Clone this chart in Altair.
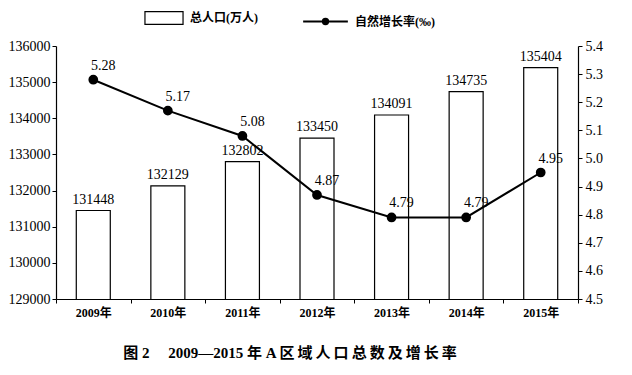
import altair as alt
import pandas as pd

years = ["2009年", "2010年", "2011年", "2012年", "2013年", "2014年", "2015年"]
population = [131448, 132129, 132802, 133450, 134091, 134735, 135404]
growth = [5.28, 5.17, 5.08, 4.87, 4.79, 4.79, 4.95]
growth_labels = ["5.28", "5.17", "5.08", "4.87", "4.79", "4.79", "4.95"]
left_ticks = [129000, 130000, 131000, 132000, 133000, 134000, 135000, 136000]
right_ticks = [4.5, 4.6, 4.7, 4.8, 4.9, 5.0, 5.1, 5.2, 5.3, 5.4]

df = pd.DataFrame({
    "year": years,
    "pop": population,
    "rate": growth,
    "rate_label": growth_labels,
    "pop_series": ["总人口(万人)"] * 7,
    "rate_series": ["自然增长率(‰)"] * 7,
})

FONT = "Liberation Serif, Noto Sans CJK SC"

x = alt.X("year:N", sort=years, title=None,
          scale=alt.Scale(paddingInner=0, paddingOuter=0),
          axis=alt.Axis(labelAngle=0, labelFont=FONT, labelFontWeight="bold",
                        labelFontSize=12, labelColor="black", domainColor="black",
                        tickColor="black", tickBand="extent", tickSize=4, labelPadding=4,
                        domainWidth=1.2))

base = alt.Chart(df)

left_axis = alt.Axis(values=left_ticks, format="d", grid=False, labelFont=FONT,
                     labelFontSize=14, labelColor="black", domainColor="black",
                     tickColor="black", tickSize=4, labelPadding=2, domainWidth=1.2,
                     labelOverlap=False)
left_scale = alt.Scale(domain=[129000, 136000], zero=False, nice=False)

bars = base.mark_bar(size=34, stroke="black", strokeWidth=1.2, clip=True).encode(
    x=x,
    y=alt.Y("pop:Q", title=None, scale=left_scale, axis=left_axis),
    fill=alt.Fill("pop_series:N", title=None,
                  scale=alt.Scale(range=["white"]),
                  legend=alt.Legend(orient="none", legendX=88, legendY=-48,
                                    symbolType="M-1,-0.33L1,-0.33L1,0.33L-1,0.33Z",
                                    symbolSize=1450, symbolStrokeColor="black",
                                    symbolStrokeWidth=1.2, labelFont=FONT,
                                    labelFontSize=12, labelFontWeight="bold",
                                    labelColor="black", labelOffset=6)),
)

bar_text = base.mark_text(dy=-11, font=FONT, fontSize=14, color="black").encode(
    x=x,
    y=alt.Y("pop:Q", title=None, scale=left_scale, axis=left_axis),
    text=alt.Text("pop:Q", format="d"),
)

left = alt.layer(bars, bar_text)

right_axis = alt.Axis(orient="right", values=right_ticks, format=".1f", grid=False,
                      labelFont=FONT, labelFontSize=14, labelColor="black",
                      domainColor="black", tickColor="black", tickSize=4,
                      labelPadding=3, domainWidth=1.2, labelOverlap=False)
right_scale = alt.Scale(domain=[4.5, 5.4], zero=False, nice=False)

line = base.mark_line(strokeWidth=2, point=alt.OverlayMarkDef(filled=True, size=60, color="black")).encode(
    x=x,
    y=alt.Y("rate:Q", title=None, scale=right_scale, axis=right_axis),
    stroke=alt.Stroke("rate_series:N", title=None,
                      scale=alt.Scale(range=["black"]),
                      legend=alt.Legend(orient="none", legendX=246, legendY=-48,
                                        symbolType="M-1,0L1,0M0.12,0A0.12,0.12 0 1,1 -0.12,0A0.12,0.12 0 1,1 0.12,0Z",
                                        symbolSize=2000, symbolFillColor="black",
                                        symbolStrokeColor="black", symbolStrokeWidth=2,
                                        labelFont=FONT, labelFontSize=12,
                                        labelFontWeight="bold", labelColor="black",
                                        labelOffset=6)),
)

line_text = base.mark_text(dx=10, dy=-14, font=FONT, fontSize=14, color="black").encode(
    x=x,
    y=alt.Y("rate:Q", title=None, scale=right_scale, axis=right_axis),
    text="rate_label:N",
)

right = alt.layer(line, line_text)

title_text = "图 2\u3000 2009—2015 年 A 区\u2009域\u2009人\u2009口\u2009总\u2009数\u2009及\u2009增\u2009长\u2009率"

chart = alt.layer(left, right).resolve_scale(
    y="independent", fill="independent", stroke="independent"
).properties(
    width=522,
    height=253,
    autosize=alt.AutoSizeParams(type="none"),
    padding={"left": 48, "top": 38, "right": 45, "bottom": 70},
    background="white",
    title=alt.TitleParams(title_text, orient="bottom",
                          font=FONT, fontSize=15, fontWeight="bold", color="black",
                          offset=28, anchor="middle", dx=-27),
).configure_view(stroke=None).configure_axis(labelOverlap=False)

chart.save("out.html", embed_options={"renderer": "svg", "actions": False})
